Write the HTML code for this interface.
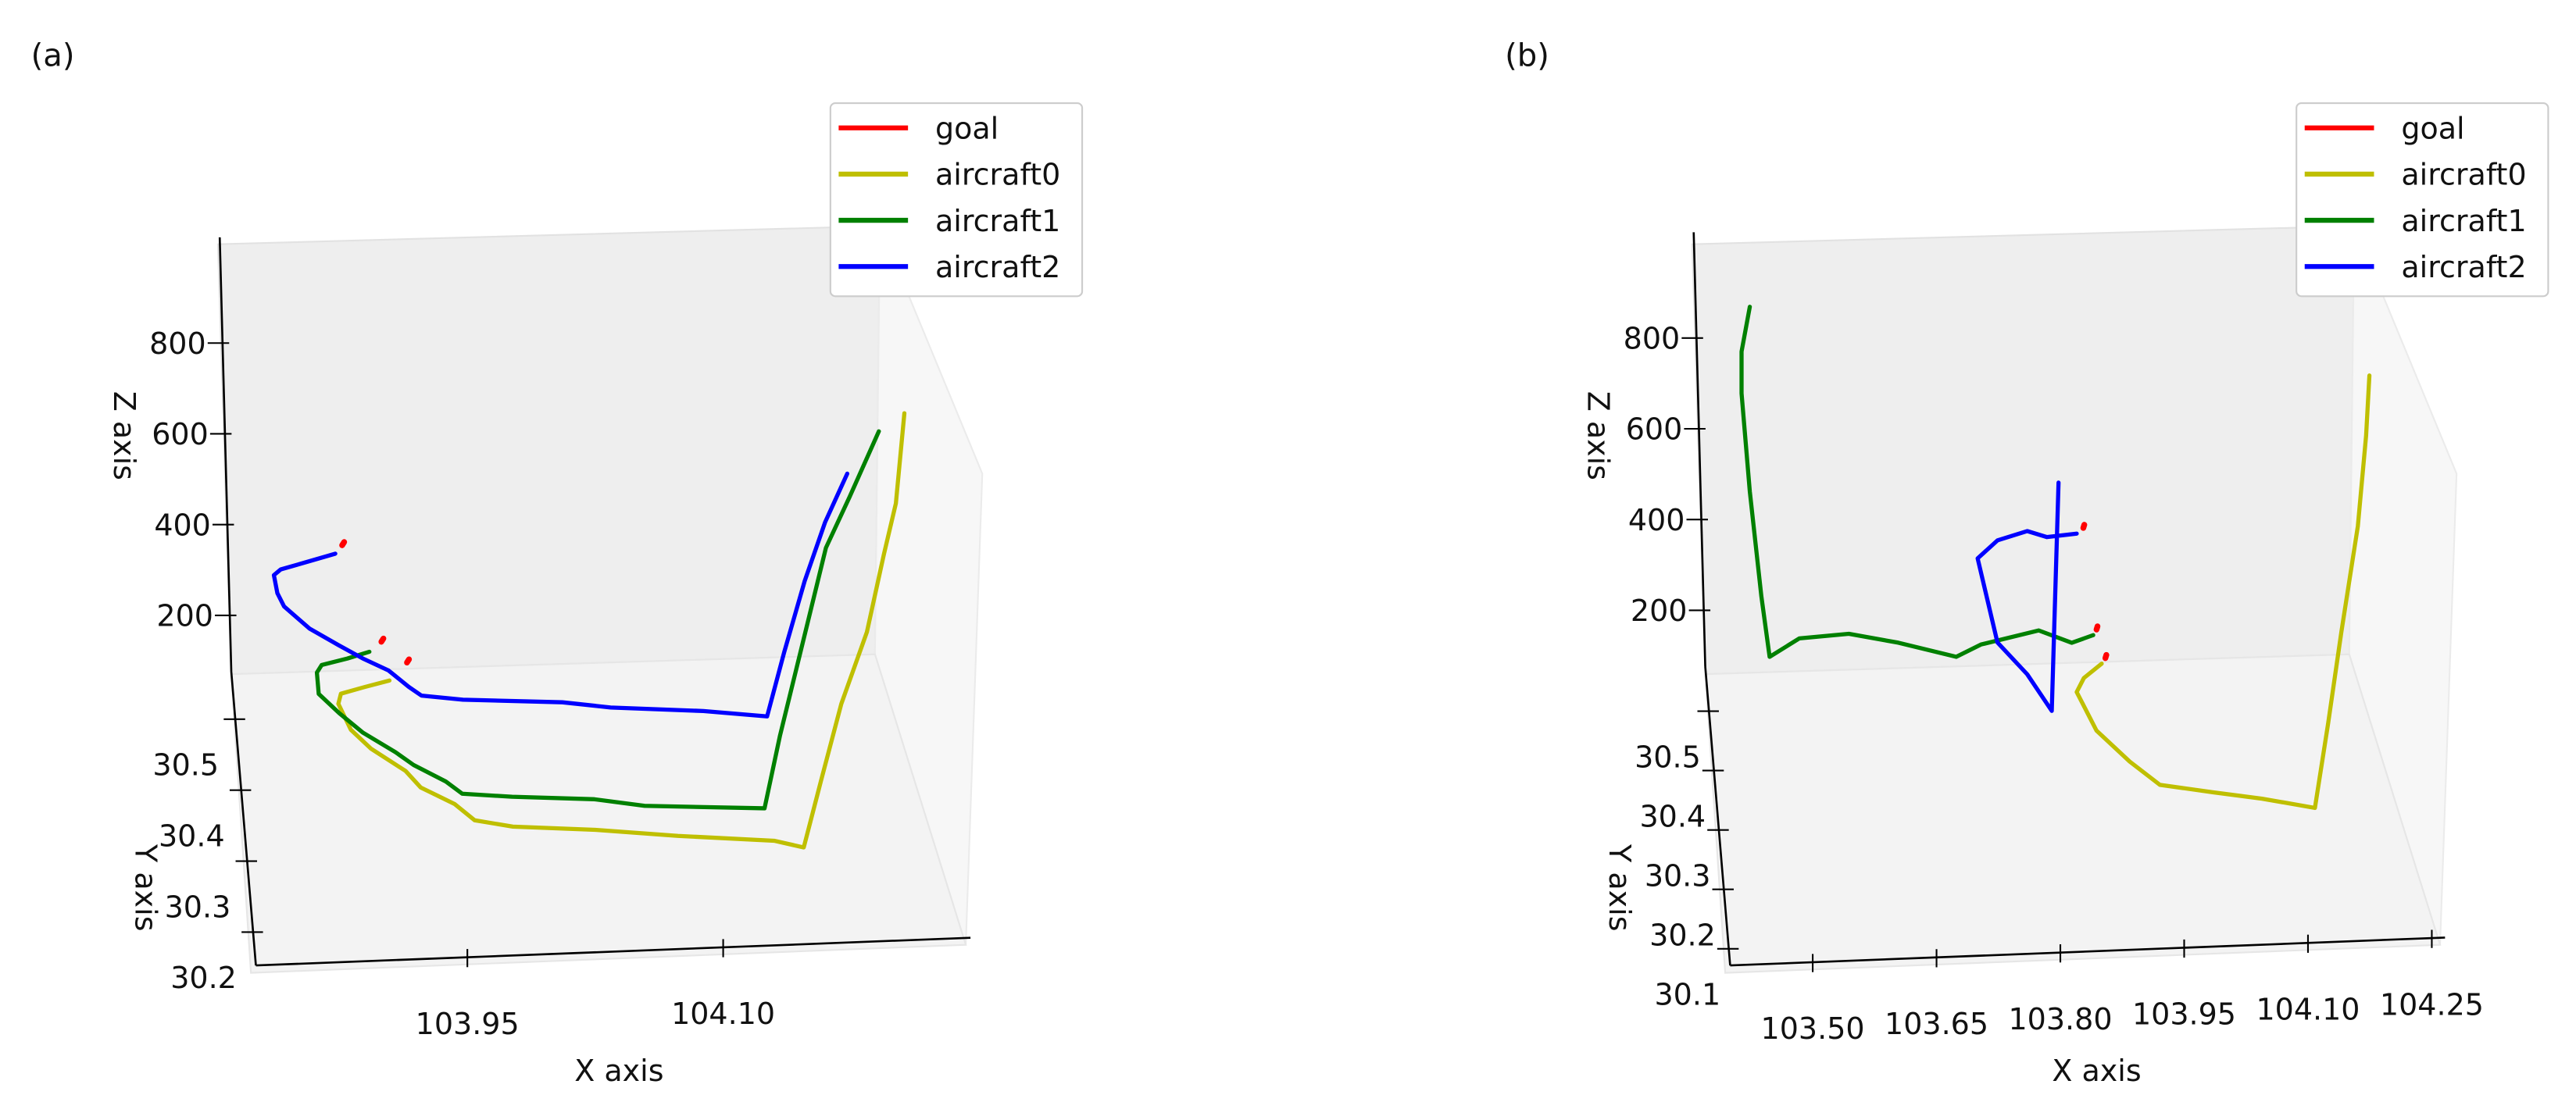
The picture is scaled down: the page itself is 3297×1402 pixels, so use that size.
<!DOCTYPE html>
<html>
<head>
<meta charset="utf-8">
<style>
  html,body{margin:0;padding:0;background:#fff;}
  svg{display:block;}
  text{font-family:"DejaVu Sans","Liberation Sans",sans-serif;fill:#111;}
</style>
</head>
<body>
<svg id="fig" width="3297" height="1402" viewBox="0 0 3297 1402" xmlns="http://www.w3.org/2000/svg">
  <g id="root" transform="scale(1.0565)"></g>
</svg>
<script>
// ---------- Panel (a) data ----------
const aYellowLon=[103.918,103.903,103.889,103.887,103.893,103.904,103.923,103.931,103.950,103.961,103.983,104.031,104.079,104.135,104.152,104.162,104.174,104.189,104.199,104.206,104.211];
const aYellowLat=[30.546,30.538,30.530,30.516,30.479,30.451,30.418,30.394,30.369,30.345,30.334,30.325,30.312,30.300,30.289,30.289,30.289,30.289,30.289,30.289,30.289];
const aYellowAlt=[76,76,76,76,76,76,76,76,76,76,76,76,76,76,76,220,389,545,715,826,1024];
const aGreenLon=[103.907,103.894,103.879,103.876,103.876,103.887,103.900,103.918,103.928,103.946,103.955,103.984,104.032,104.061,104.131,104.140,104.155,104.167,104.181,104.198];
const aGreenLat=[30.567,30.567,30.567,30.561,30.531,30.503,30.474,30.445,30.426,30.401,30.383,30.376,30.368,30.356,30.346,30.346,30.346,30.346,30.346,30.346];
const aGreenAlt=[108,95,83,76,76,76,76,76,76,76,76,76,76,76,76,234,462,645,756,897];
const aBlueLon=[103.887,103.869,103.855,103.851,103.853,103.857,103.872,103.889,103.903,103.918,103.929,103.936,103.960,104.018,104.046,104.100,104.137,104.147,104.159,104.171,104.184];
const aBlueLat=[30.567,30.567,30.567,30.567,30.567,30.567,30.567,30.567,30.567,30.560,30.536,30.523,30.515,30.506,30.496,30.486,30.475,30.475,30.475,30.475,30.475];
const aBlueAlt=[327,310,297,285,245,215,164,125,94,76,76,76,76,76,76,76,76,216,371,499,604];
const aGoalLon=[103.891,103.914,103.929];
const aGoalLat=[30.567,30.567,30.567];
const aGoalAlt=[345,129,81];
const aXTicks=[103.95,104.10];
const aXTickLabels=["103.95","104.10"];
const aYTicks=[30.2,30.3,30.4,30.5];
const aYTickLabels=["30.2","30.3","30.4","30.5"];
const aZTicks=[200,400,600,800];
const aZTickLabels=["200","400","600","800"];

// ---------- Panel (b) data ----------
const bYellowLon=[103.879,103.856,103.846,103.866,103.903,103.937,104.000,104.059,104.122,104.138,104.154,104.174,104.184,104.188];
const bYellowLat=[30.554,30.531,30.508,30.442,30.388,30.347,30.331,30.317,30.298,30.298,30.298,30.298,30.298,30.298];
const bYellowAlt=[76,76,76,76,76,76,76,76,76,261,461,693,892,1024];
const bGreenLon=[103.870,103.844,103.804,103.734,103.704,103.634,103.574,103.514,103.478,103.468,103.454,103.444,103.444,103.454];
const bGreenLat=[30.575,30.575,30.575,30.575,30.575,30.575,30.575,30.575,30.575,30.575,30.575,30.575,30.575,30.575];
const bGreenAlt=[112,97,127,101,76,112,136,130,92,226,458,675,767,865];
const bBlueLon=[103.828,103.814,103.788,103.754,103.730,103.754,103.790,103.814,103.850];
const bBlueLat=[30.575,30.478,30.541,30.575,30.575,30.575,30.575,30.575,30.575];
const bBlueAlt=[451,76,76,104,291,329,347,332,337];
const bGoalLon=[103.858,103.874,103.884];
const bGoalLat=[30.575,30.575,30.563];
const bGoalAlt=[349,124,76];
const bXTicks=[103.50,103.65,103.80,103.95,104.10,104.25];
const bXTickLabels=["103.50","103.65","103.80","103.95","104.10","104.25"];
const bYTicks=[30.1,30.2,30.3,30.4,30.5];
const bYTickLabels=["30.1","30.2","30.3","30.4","30.5"];
const bZTicks=[200,400,600,800];
const bZTickLabels=["200","400","600","800"];

const NS="http://www.w3.org/2000/svg";
const root=document.getElementById('root');
function mk(tag,attrs,parent){const e=document.createElementNS(NS,tag);for(const k in attrs)e.setAttribute(k,attrs[k]);(parent||root).appendChild(e);return e;}

function projA(lon,lat,alt){const dx=lon-103.826,dy=lat-30.153,dz=alt-76;return [310+2066*dx-72*dy,1170-80*dx-860*dy-0.55*dz];}
function projB(lon,lat,alt){const dx=lon-103.40,dy=lat-30.072,dz=alt-76;return [2096+1000*dx-60*dy,1170-39*dx-720*dy-0.55*dz];}

function panel(p){
  const g=mk('g',{});
  
  
  const o=p.off;
  const wall=mk('polygon',{points:`${264+o},296 ${1066+o},274 ${1060+o},793 ${280+o},817`,fill:'#eeeeee',stroke:'#e2e2e2','stroke-width':2},g);
  
  
  const side=mk('polygon',{points:`${1066+o},274 ${1190+o},574 ${1170+o},1145 ${1060+o},793`,fill:'#f7f7f7',stroke:'#ebebeb','stroke-width':2},g);
  
  
  const floor=mk('polygon',{points:`${280+o},817 ${1060+o},793 ${1170+o},1145 ${304+o},1179`,fill:'#f3f3f3',stroke:'#e6e6e6','stroke-width':2},g);
  
  

  const P=p.proj, L=p.lim;
  const c1=P(L.lon0,L.lat1,L.alt1),c2=P(L.lon0,L.lat1,L.alt0),c3=P(L.lon0,L.lat0,L.alt0),c4=P(L.lon1,L.lat0,L.alt0);
  const za=mk('line',{x1:c1[0]-14,y1:c1[1],x2:c2[0],y2:c2[1],stroke:'#000','stroke-width':2.5},g);
  
  
  const ya=mk('line',{x1:c2[0],y1:c2[1],x2:c3[0],y2:c3[1],stroke:'#000','stroke-width':2.5},g);
  
  
  const xa=mk('line',{x1:c3[0],y1:c3[1],x2:c4[0],y2:c4[1],stroke:'#000','stroke-width':2.5},g);
  
  

  p.zt.forEach((v,i)=>{const q=P(L.lon0,L.lat1,v);const sh=-14*(v-L.alt0)/(L.alt1-L.alt0);
    const t=mk('line',{x1:q[0]+sh-18,y1:q[1],x2:q[0]+sh+8,y2:q[1],stroke:'#000','stroke-width':2},g);
    
    
    const tx=mk('text',{x:q[0]+sh-20,y:q[1]+13,'font-size':36,'text-anchor':'end'},g);tx.textContent=p.ztl[i];
    
    });
  p.yt.forEach((v,i)=>{const q=P(L.lon0,v,L.alt0);
    const t=mk('line',{x1:q[0]-14,y1:q[1],x2:q[0]+12,y2:q[1],stroke:'#000','stroke-width':2},g);
    
    
    const tx=mk('text',{x:q[0]-p.ylx,y:q[1]+68,'font-size':36,'text-anchor':'middle'},g);tx.textContent=p.ytl[i];
    
    });
  p.xt.forEach((v,i)=>{const q=P(v,L.lat0,L.alt0);
    const t=mk('line',{x1:q[0],y1:q[1]-10,x2:q[0],y2:q[1]+12,stroke:'#000','stroke-width':2},g);
    
    
    const tx=mk('text',{x:q[0],y:q[1]+93,'font-size':36,'text-anchor':'middle'},g);tx.textContent=p.xtl[i];
    
    });

  const xl=mk('text',{x:p.xlx,y:1310,'font-size':36,'text-anchor':'middle'},g);xl.textContent='X axis';
  
  
  const yl=mk('text',{x:0,y:0,'font-size':36,'text-anchor':'middle',transform:`translate(${164+o},1076) rotate(90)`},g);yl.textContent='Y axis';
  
  
  const zl=mk('text',{x:0,y:0,'font-size':36,'text-anchor':'middle',transform:`translate(${138+o},528) rotate(90)`},g);zl.textContent='Z axis';
  
  
  const pl=mk('text',{x:64+o,y:80,'font-size':38,'text-anchor':'middle'},g);pl.textContent=p.label;
  
  

  p.series.forEach(s=>{
    const pts=s.lon.map((v,i)=>P(v,s.lat[i],s.alt[i]).map(n=>n.toFixed(1)).join(',')).join(' ');
    const pl=mk('polyline',{points:pts,fill:'none',stroke:s.color,'stroke-width':5,'stroke-linejoin':'round','stroke-linecap':'round'},g);
    
    
  });
  p.goal.lon.forEach((v,i)=>{
    const q1=P(v,p.goal.lat[i],p.goal.alt[i]),q2=P(v+0.0012,p.goal.lat[i],p.goal.alt[i]+7);
    const gl=mk('line',{x1:q1[0],y1:q1[1],x2:q2[0],y2:q2[1],stroke:'#ff0000','stroke-width':7,'stroke-linecap':'round'},g);
    
    
  });

  const lg=mk('g',{},g);
  
  
  const lo=p.legOff;
  mk('rect',{x:1006+lo,y:125,width:305,height:234,rx:6,fill:'#fff',stroke:'#cccccc','stroke-width':2},lg);
  const ent=[['goal','#ff0000'],['aircraft0','#bfbf00'],['aircraft1','#008000'],['aircraft2','#0000ff']];
  ent.forEach((e,i)=>{const y=155+i*56;
    const ln=mk('line',{x1:1016+lo,y1:y,x2:1100+lo,y2:y,stroke:e[1],'stroke-width':6},lg);
    
    
    const t=mk('text',{x:1133+lo,y:y+13,'font-size':36},lg);t.textContent=e[0];
    
    });
}

panel({name:'panel-a',label:'(a)',off:0,legOff:0,proj:projA,
  lim:{lon0:103.826,lon1:104.245,lat0:30.153,lat1:30.567,alt0:76,alt1:1033},
  xt:aXTicks,xtl:aXTickLabels,yt:aYTicks,ytl:aYTickLabels,zt:aZTicks,ztl:aZTickLabels,ylx:60,xlx:750,
  series:[{name:'aircraft0',color:'#bfbf00',lon:aYellowLon,lat:aYellowLat,alt:aYellowAlt},
          {name:'aircraft1',color:'#008000',lon:aGreenLon,lat:aGreenLat,alt:aGreenAlt},
          {name:'aircraft2',color:'#0000ff',lon:aBlueLon,lat:aBlueLat,alt:aBlueAlt}],
  goal:{lon:aGoalLon,lat:aGoalLat,alt:aGoalAlt}});

panel({name:'panel-b',label:'(b)',off:1786,legOff:1776,proj:projB,
  lim:{lon0:103.40,lon1:104.266,lat0:30.072,lat1:30.575,alt0:76,alt1:1033},
  xt:bXTicks,xtl:bXTickLabels,yt:bYTicks,ytl:bYTickLabels,zt:bZTicks,ztl:bZTickLabels,ylx:50,xlx:2540,
  series:[{name:'aircraft0',color:'#bfbf00',lon:bYellowLon,lat:bYellowLat,alt:bYellowAlt},
          {name:'aircraft1',color:'#008000',lon:bGreenLon,lat:bGreenLat,alt:bGreenAlt},
          {name:'aircraft2',color:'#0000ff',lon:bBlueLon,lat:bBlueLat,alt:bBlueAlt}],
  goal:{lon:bGoalLon,lat:bGoalLat,alt:bGoalAlt}});
</script>
</body>
</html>
